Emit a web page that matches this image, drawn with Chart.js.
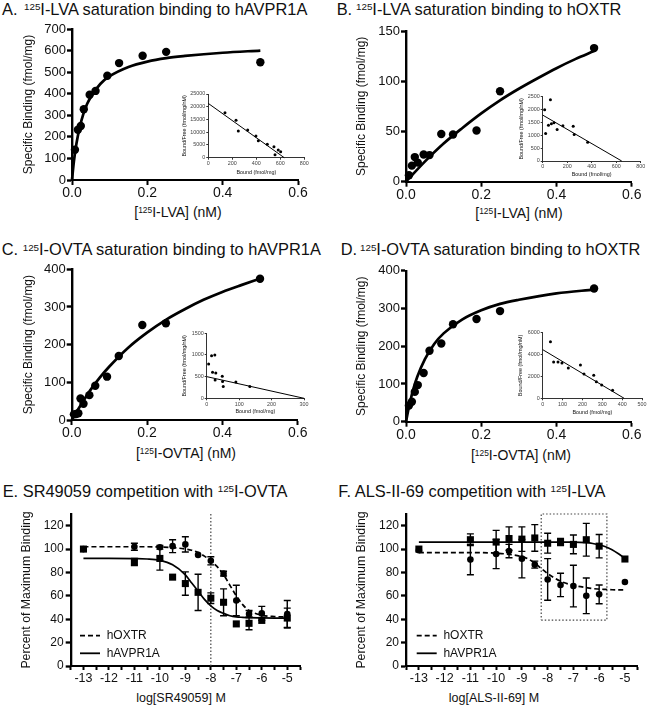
<!DOCTYPE html>
<html>
<head>
<meta charset="utf-8">
<script src="https://cdn.jsdelivr.net/npm/chart.js@4.4.1/dist/chart.umd.min.js"></script>
<style>
body { margin: 0; background: #fff; width: 647px; height: 705px; position: relative; overflow: hidden;
       font-family: "Liberation Sans", Arial, sans-serif; color: #111; }
canvas { position: absolute; }
.ttl { position: absolute; font-size: 16.4px; line-height: 18px; white-space: nowrap; }
.ttl .s { font-size: 9.8px; vertical-align: 4.7px; line-height: 0; }
.xt { position: absolute; width: 200px; text-align: center; white-space: nowrap; line-height: 16px; }
.xt .s { font-size: 8.4px; vertical-align: 4px; line-height: 0; }
</style>
</head>
<body>
<div class="ttl" style="left:2px;top:0px">A.<span class="s" style="margin-left:6.5px">125</span>I-LVA saturation binding to hAVPR1A</div>
<div class="ttl" style="left:336.7px;top:0px">B.<span class="s" style="margin-left:3.8px">125</span>I-LVA saturation binding to hOXTR</div>
<div class="ttl" style="left:1.7px;top:240.4px">C.<span class="s" style="margin-left:4.6px">125</span>I-OVTA saturation binding to hAVPR1A</div>
<div class="ttl" style="left:340.7px;top:240.4px">D.<span class="s" style="margin-left:2.9px">125</span>I-OVTA saturation binding to hOXTR</div>
<div class="ttl" style="left:2.7px;top:482px">E. SR49059 competition with <span class="s">125</span>I-OVTA</div>
<div class="ttl" style="left:338.3px;top:482px">F. ALS-II-69 competition with <span class="s">125</span>I-LVA</div>

<div class="xt" style="left:78px;top:204px;font-size:14px">[<span class="s">125</span>I-LVA] (nM)</div>
<div class="xt" style="left:419px;top:205px;font-size:14px">[<span class="s">125</span>I-LVA] (nM)</div>
<div class="xt" style="left:86px;top:445px;font-size:14px">[<span class="s">125</span>I-OVTA] (nM)</div>
<div class="xt" style="left:421px;top:447px;font-size:14px">[<span class="s">125</span>I-OVTA] (nM)</div>
<div class="xt" style="left:81px;top:690px;font-size:12.5px">log[SR49059] M</div>
<div class="xt" style="left:394px;top:690px;font-size:12.5px">log[ALS-II-69] M</div>

<script>
// ---- saturation binding (panels A-D), x in nM, y in fmol/mg ----
const concA = [0.0078, 0.0156, 0.0234, 0.0313, 0.0469, 0.0625, 0.0938, 0.125, 0.1875, 0.25, 0.5];
const boundA = [140, 233, 250, 328, 395, 413, 483, 542, 576, 594, 546];
const fitConcA = [0, 0.0025, 0.005, 0.01, 0.015, 0.02, 0.03, 0.04, 0.05, 0.075, 0.1, 0.15, 0.2, 0.25, 0.3, 0.4, 0.5];
const fitBoundA = [0, 45, 85, 149, 199, 241, 305, 352, 385, 445, 481, 524, 549, 565, 575, 590, 600];

const concB = [0.0078, 0.0156, 0.0234, 0.0313, 0.0469, 0.0625, 0.0938, 0.125, 0.1875, 0.25, 0.5];
const boundB = [6.5, 16, 24.5, 19, 27, 26.5, 47.5, 47, 51, 90, 133];
const fitConcB = [0, 0.05, 0.1, 0.15, 0.2, 0.25, 0.3, 0.35, 0.4, 0.45, 0.5];
const fitBoundB = [0, 20, 38, 53.5, 68, 81, 92.5, 103, 113, 122, 130];

const concC = [0.0059, 0.0117, 0.0176, 0.0234, 0.0313, 0.0469, 0.0625, 0.0938, 0.125, 0.1875, 0.25, 0.5];
const boundC = [15, 16, 18, 57, 43, 66, 91, 115, 170, 252, 257, 375];
const fitConcC = [0, 0.025, 0.05, 0.075, 0.1, 0.15, 0.2, 0.25, 0.3, 0.35, 0.4, 0.45, 0.5];
const fitBoundC = [0, 41, 80, 113, 142, 192, 232, 266, 294, 319, 340, 358, 375];

const concD = [0.0078, 0.0156, 0.0234, 0.0313, 0.0469, 0.0625, 0.0938, 0.125, 0.1875, 0.25, 0.5];
const boundD = [43, 53, 79, 97, 129, 188, 207, 258, 272, 293, 353];
const fitConcD = [0, 0.005, 0.01, 0.02, 0.03, 0.05, 0.075, 0.1, 0.15, 0.2, 0.25, 0.3, 0.4, 0.5];
const fitBoundD = [0, 26, 49, 88, 119, 165, 206, 234, 271, 295, 312, 323, 340, 350];

// ---- Scatchard insets: bound (fmol/mg) vs bound/free ----
const insetBoundA = [139, 231, 250, 328, 397, 417, 492, 547, 556, 583, 603];
const insetRatioA = [17670, 14680, 10480, 10870, 8520, 6680, 5260, 4320, 1180, 3020, 2360];
const insetFitA = [[0, 633], [21300, 0]];

const insetBoundB = [16, 24, 47, 63, 71, 92, 118, 165, 249, 257, 367];
const insetRatioB = [1992, 1068, 1393, 2383, 1445, 1484, 1224, 1367, 1354, 1029, 729];
const insetFitB = [[0, 645], [1785, 0]];

const insetBoundC = [6, 15, 25, 18, 28, 26, 48, 49, 51, 90, 133];
const insetRatioC = [792, 983, 999, 600, 584, 423, 508, 385, 270, 377, 270];
const insetFitC = [[0, 300], [500, 0]];

const insetBoundD = [39, 55, 77, 97, 129, 190, 208, 257, 270, 297, 352];
const insetRatioD = [5180, 3320, 3320, 3230, 2770, 3050, 2220, 2100, 1520, 1220, 730];
const insetFitD = [[0, 410], [4450, 0]];

// ---- competition curves (panels E-F), log M vs % of max binding ----
const seriesNames = ['hOXTR', 'hAVPR1A'];

const logE = [-13, -11, -10, -9.5, -9, -8.5, -8, -7.5, -7, -6.5, -6, -5];
const oxtrE = [100, 102, 101.5, 102.5, 104, 95, 90, 79, 56, 44.5, 45, 44.5];
const oxtrErrE = [0, 3, 1.5, 5.5, 6.5, 0, 3.5, 2, 13, 3, 6, 11.5];
const avprE = [100, 89, 92, 76, 70.5, 63, 58, 54.5, 36, 36.5, 39, 41];
const avprErrE = [0, 3, 10, 0, 10, 15.5, 4.5, 11.5, 0, 5.5, 0, 8.5];
const fitLogE = [-13, -12, -11, -10.5, -10, -9.5, -9, -8.75, -8.5, -8.25, -8, -7.75, -7.5, -7.25, -7, -6.75, -6.5, -6, -5.5, -5];
const fitOxtrE = [102, 102, 102, 102, 101.8, 101.3, 100, 99, 97, 94, 90, 85, 78, 69, 60, 52.5, 47.5, 43.5, 42.3, 42];
const fitAvprE = [92, 92, 91.8, 91.5, 90.3, 86.5, 78, 71, 64, 57, 51.5, 47.5, 45, 43, 42, 41.6, 41.3, 41.1, 41, 41];
const refLineE = [-8];

const logF = [-13, -11, -10, -9.5, -9, -8.5, -8, -7.5, -7, -6.5, -6, -5];
const oxtrF = [99, 91, 95.8, 98.3, 91.8, 86.7, 74, 69.3, 68.4, 60, 61.3, 71.8];
const oxtrErrF = [0, 13, 12.5, 5.7, 16.4, 3, 17.8, 10, 17.8, 15.2, 8, 0];
const avprF = [100, 108, 106, 109, 108.5, 109.5, 105, 106, 104, 108, 102.5, 91.5];
const avprErrF = [0, 5, 10, 10, 10.5, 11.4, 8.5, 3, 8, 14, 10, 0];
const fitLogF = [-13, -12, -11, -10, -9.5, -9, -8.75, -8.5, -8.25, -8, -7.75, -7.5, -7, -6.5, -6.25, -6, -5.75, -5.5, -5.25, -5];
const fitOxtrF = [97, 97, 97, 96.5, 95.5, 93.5, 91.5, 88, 83.5, 79, 75.5, 72.5, 69, 67, 66.2, 65.8, 65.5, 65.2, 65.1, 65];
const fitAvprF = [106, 106, 106, 106, 106, 106, 106, 106, 106, 106, 106, 106, 106, 105.5, 104.8, 103.7, 102, 99.5, 96, 92];
const boxF = [[-8.25, -5.7], [39.3, 130]];

Chart.defaults.font.family = '"Liberation Sans", Arial, sans-serif';
Chart.defaults.color = '#111';
Chart.defaults.animation = false;
Chart.defaults.plugins.legend.display = false;
Chart.defaults.plugins.tooltip.enabled = false;

const FONT = '"Liberation Sans", Arial, sans-serif';

function pts(xs, ys) {
    return xs.map((x, i) => ({ x: x, y: ys[i] }));
}

// error bars drawn from each dataset's err array
const errorBars = {
    id: 'errorBars',
    afterDatasetsDraw(chart) {
        const { ctx, scales } = chart;
        chart.data.datasets.forEach(ds => {
            if (!ds.err) return;
            ctx.save();
            ctx.strokeStyle = '#000';
            ctx.lineWidth = 1.4;
            ds.data.forEach((p, i) => {
                const e = ds.err[i];
                if (!e) return;
                const px = scales.x.getPixelForValue(p.x);
                const y1 = scales.y.getPixelForValue(p.y + e);
                const y2 = scales.y.getPixelForValue(p.y - e);
                ctx.beginPath();
                ctx.moveTo(px, y1); ctx.lineTo(px, y2);
                ctx.moveTo(px - 3.5, y1); ctx.lineTo(px + 3.5, y1);
                ctx.moveTo(px - 3.5, y2); ctx.lineTo(px + 3.5, y2);
                ctx.stroke();
            });
            ctx.restore();
        });
    }
};

// line-sample legend inside the plot
const lineLegend = {
    id: 'lineLegend',
    afterDraw(chart, args, o) {
        if (!o || !o.items) return;
        const ctx = chart.ctx;
        o.items.forEach((it, i) => {
            const yy = o.y + i * o.gap;
            ctx.save();
            ctx.strokeStyle = '#000';
            ctx.lineWidth = 1.8;
            ctx.setLineDash(it.dash);
            ctx.beginPath();
            ctx.moveTo(o.x, yy);
            ctx.lineTo(o.x + o.len, yy);
            ctx.stroke();
            ctx.setLineDash([]);
            ctx.fillStyle = '#111';
            ctx.font = '12px ' + FONT;
            ctx.textBaseline = 'middle';
            ctx.fillText(it.text, o.x + o.len + o.sp, yy);
            ctx.restore();
        });
    }
};

function axisOpts(a, size, horizontal) {
    return {
        type: 'linear',
        min: a.min,
        max: a.max,
        border: { display: true, color: a.color || '#000', width: a.bw },
        grid: { display: true, drawOnChartArea: false, drawTicks: true, tickLength: a.tl,
                tickWidth: a.tw || a.bw, tickColor: a.color || '#000' },
        ticks: { stepSize: a.step, autoSkip: false, maxRotation: 0, minRotation: 0, includeBounds: false,
                 padding: a.pad, color: a.labelColor || '#111', font: { size: a.font }, callback: a.cb },
        title: a.title ? { display: true, text: a.title, color: '#111', font: { size: a.titleFont },
                           padding: { top: a.titlePad || 0, bottom: a.titlePadB || 0 } } : { display: false },
        afterFit: s => { if (horizontal) s.height = size; else s.width = size; }
    };
}

function makeChart(box, datasets, ax, ay, pluginOpts) {
    const c = document.createElement('canvas');
    c.width = box.w;
    c.height = box.h;
    c.style.left = box.x + 'px';
    c.style.top = box.y + 'px';
    c.style.width = box.w + 'px';
    c.style.height = box.h + 'px';
    document.body.appendChild(c);
    return new Chart(c.getContext('2d'), {
        type: 'scatter',
        data: { datasets: datasets },
        options: {
            responsive: false,
            devicePixelRatio: 1,
            events: [],
            layout: { padding: { left: 0, right: box.pr, top: box.pt, bottom: 0 } },
            scales: { x: axisOpts(ax, box.xh, true), y: axisOpts(ay, box.yw, false) },
            plugins: Object.assign({ legend: { display: false } }, pluginOpts || {})
        },
        plugins: [errorBars, lineLegend]
    });
}

function dots(xs, ys, r) {
    return { data: pts(xs, ys), pointStyle: 'circle', pointRadius: r, pointBackgroundColor: '#000',
             pointBorderWidth: 0, borderColor: '#000', showLine: false, clip: false };
}

function curve(xs, ys, w, dash) {
    return { data: pts(xs, ys), showLine: true, pointRadius: 0, borderColor: '#000', borderWidth: w,
             borderDash: dash || [], cubicInterpolationMode: 'monotone', fill: false, clip: false };
}

const oneDec = v => v.toFixed(1);
const plain = v => String(v);
const intOnly = v => Number.isInteger(v) ? String(v) : '';

// ---- saturation panels ----
function saturation(box, conc, bound, fitX, fitY, yMax, yStep) {
    makeChart(box,
        [dots(conc, bound, 4.2), curve(fitX, fitY, 2.7)],
        { min: 0, max: 0.6, step: 0.2, bw: 2, tl: 5, pad: 0, font: 14, cb: oneDec },
        { min: 0, max: yMax, step: yStep, bw: 2.4, tl: 5, pad: 1, font: 13, cb: plain,
          title: 'Specific Binding (fmol/mg)', titleFont: 12, titlePad: box.ytPad });
}

saturation({ x: 0, y: 20, w: 320, h: 202, pr: 22, pt: 9, yw: 72, xh: 42, ytPad: 21 },
    concA, boundA, fitConcA, fitBoundA, 700, 100);
saturation({ x: 323, y: 20, w: 324, h: 202, pr: 15.3, pt: 11, yw: 83, xh: 40.3, ytPad: 31.5 },
    concB, boundB, fitConcB, fitBoundB, 150, 50);
saturation({ x: 0, y: 258, w: 320, h: 202, pr: 22.3, pt: 11.3, yw: 71.7, xh: 40, ytPad: 21 },
    concC, boundC, fitConcC, fitBoundC, 400, 100);
saturation({ x: 323, y: 258, w: 324, h: 202, pr: 15.3, pt: 12.7, yw: 83, xh: 38.3, ytPad: 31.5 },
    concD, boundD, fitConcD, fitBoundD, 400, 100);

// ---- competition panels ----
function competition(box, logX, oxtr, oxtrErr, avpr, avprErr, fitX, fitOxtr, fitAvpr, extra, legendPos) {
    const circles = dots(logX, oxtr, 3.3);
    circles.err = oxtrErr;
    const squares = dots(logX, avpr, 5);
    squares.pointStyle = 'rect';
    squares.err = avprErr;
    makeChart(box,
        [squares, circles, curve(fitX, fitOxtr, 1.7, [5, 3]), curve(fitX, fitAvpr, 1.7), extra],
        { min: -13.5, max: -4.5, step: 0.5, bw: 2, tl: 4, pad: 1.5, font: 12.5, cb: intOnly },
        { min: 0, max: 130, step: 20, bw: 2.3, tl: 5, pad: 2, font: 12, cb: plain,
          title: 'Percent of Maximum Binding', titleFont: 12.3, titlePad: box.ytPad },
        { lineLegend: { x: legendPos[0], y: legendPos[1], gap: 17.6, len: 20, sp: 6.7,
                        items: [{ text: seriesNames[0], dash: [5, 3] }, { text: seriesNames[1], dash: [] }] } });
}

const markerE = { data: [{ x: refLineE[0], y: 0 }, { x: refLineE[0], y: 130 }], showLine: true, pointRadius: 0,
                  borderColor: '#444', borderWidth: 1.2, borderDash: [1.5, 2], clip: false };
competition({ x: 0, y: 500, w: 320, h: 205, pr: 20, pt: 14, yw: 70.7, xh: 39, ytPad: 19.3 },
    logE, oxtrE, oxtrErrE, avprE, avprErrE, fitLogE, fitOxtrE, fitAvprE, markerE, [80, 135.7]);

const rectF = { data: [
        { x: boxF[0][0], y: boxF[1][0] }, { x: boxF[0][1], y: boxF[1][0] },
        { x: boxF[0][1], y: boxF[1][1] }, { x: boxF[0][0], y: boxF[1][1] },
        { x: boxF[0][0], y: boxF[1][0] }],
    showLine: true, pointRadius: 0, borderColor: '#444', borderWidth: 1.2, borderDash: [1.5, 2], clip: false };
competition({ x: 323, y: 500, w: 324, h: 205, pr: 9.2, pt: 14, yw: 83, xh: 39, ytPad: 31.3 },
    logF, oxtrF, oxtrErrF, avprF, avprErrF, fitLogF, fitOxtrF, fitAvprF, rectF, [93.7, 135.7]);

// ---- Scatchard insets ----
function inset(box, bound, ratio, fit, xMax, xStep, yMax, yStep) {
    makeChart(box,
        [dots(bound, ratio, 1.5), curve(fit[0], fit[1], 1)],
        { min: 0, max: xMax, step: xStep, bw: 1, tl: 2, pad: 0.5, font: 5.4, cb: plain, color: '#333',
          labelColor: '#444', title: 'Bound (fmol/mg)', titleFont: 5.4, titlePadB: box.xtPad },
        { min: 0, max: yMax, step: yStep, bw: 1, tl: 2, pad: 1, font: 5.4, cb: plain, color: '#333',
          labelColor: '#444', title: 'Bound/Free (fmol/mg/nM)', titleFont: 5.4, titlePad: box.ytPad });
}

inset({ x: 180, y: 88, w: 130, h: 90, pr: 5.7, pt: 6, yw: 28.3, xh: 20.3, ytPad: 1, xtPad: 2.7 },
    insetBoundA, insetRatioA, insetFitA, 800, 200, 25000, 5000);
inset({ x: 510, y: 90, w: 137, h: 90, pr: 6.3, pt: 6.7, yw: 32.7, xh: 19, ytPad: 8.4, xtPad: 2.7 },
    insetBoundB, insetRatioB, insetFitB, 800, 200, 2500, 500);
inset({ x: 175, y: 326, w: 135, h: 90, pr: 6, pt: 7.3, yw: 31.7, xh: 17.7, ytPad: 6, xtPad: 1 },
    insetBoundC, insetRatioC, insetFitC, 300, 100, 1500, 500);
inset({ x: 510, y: 326, w: 137, h: 90, pr: 5, pt: 6.7, yw: 32.7, xh: 17.7, ytPad: 7.7, xtPad: 0 },
    insetBoundD, insetRatioD, insetFitD, 500, 100, 6000, 2000);
</script>
</body>
</html>
